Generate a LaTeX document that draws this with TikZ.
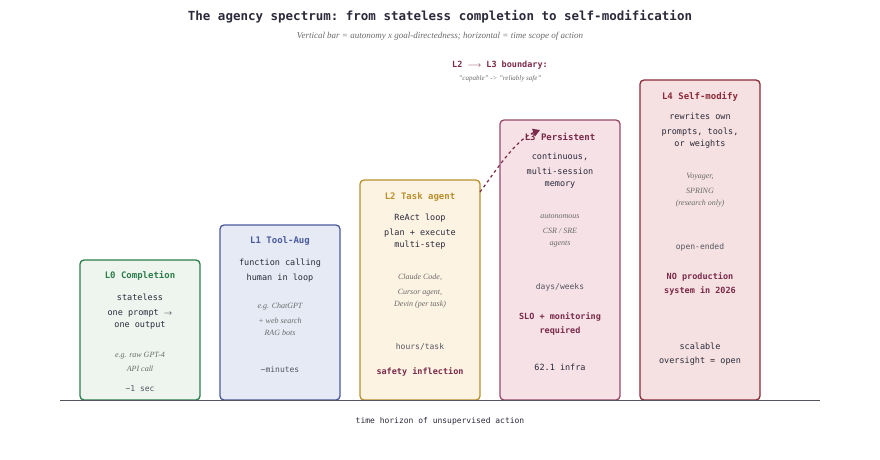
\documentclass[tikz,border=0pt]{standalone}
\usepackage{fontspec}
\setmainfont{Liberation Serif}
\setmonofont{DejaVu Sans Mono}
\usetikzlibrary{arrows.meta,positioning}
\definecolor{inkC}{HTML}{2A2A3A}
\definecolor{greyC}{HTML}{6A6A6A}
\definecolor{maroonC}{HTML}{7A2A4A}
\definecolor{lzeroD}{HTML}{2E7D4A}\definecolor{lzeroF}{HTML}{EDF5EE}
\definecolor{loneD}{HTML}{4A5A9A}\definecolor{loneF}{HTML}{E5EAF5}
\definecolor{ltwoD}{HTML}{B8902E}\definecolor{ltwoF}{HTML}{FDF3E2}
\definecolor{lthreeD}{HTML}{9A4A6A}\definecolor{lthreeF}{HTML}{F5E1E6}
\definecolor{lfourD}{HTML}{8A2A3A}\definecolor{lfourF}{HTML}{F5E1E1}
\tikzset{
 level/.style={draw=#1D,fill=#1F,line width=1.3pt,rounded corners=4pt},
 head/.style={font=\ttfamily\bfseries\fontsize{9}{10}\selectfont,text=#1},
 body/.style={font=\ttfamily\fontsize{8.5}{15}\selectfont,text=inkC,align=center},
 note/.style={font=\itshape\fontsize{8}{15}\selectfont,text=greyC,align=center},
 span/.style={font=\ttfamily\fontsize{8}{10}\selectfont,text=inkC!80},
 warn/.style={font=\ttfamily\bfseries\fontsize{8.5}{14}\selectfont,text=maroonC,align=center}}
\begin{document}
\begin{tikzpicture}[x=1pt,y=-1pt]
\useasboundingbox (0,0) rectangle (880,460);
\node[font=\ttfamily\bfseries\fontsize{12.5}{14}\selectfont,text=inkC] (title) at (440,17) {The agency spectrum: from stateless completion to self-modification};
\node[font=\itshape\fontsize{9}{10}\selectfont,text=greyC] (subtitle) at (440,36) {Vertical bar = autonomy x goal-directedness; horizontal = time scope of action};
% boxes
\draw[level=lzero] (80,260) rectangle (200,400);
\draw[level=lone] (220,225) rectangle (340,400);
\draw[level=ltwo] (360,180) rectangle (480,400);
\draw[level=lthree] (500,120) rectangle (620,400);
\draw[level=lfour] (640,80) rectangle (760,400);
\draw[inkC!80,line width=1pt] (60,400) -- (820,400);
\node[span,text=inkC] (axis) at (440,421) {time horizon of unsupervised action};
% L0
\node[head=lzeroD] (hzero) at (140,276) {L0 Completion};
\node[body,anchor=north] (bzero) at (140,290) {stateless\\one prompt $\rightarrow$\\[-3pt]one output};
\node[note,anchor=north] (nzero) at (140,349) {e.g. raw GPT-4\\[-1pt]API call};
\node[span] (szero) at (140,389) {\textasciitilde1 sec};
% L1
\node[head=loneD] (hone) at (280,241) {L1 Tool-Aug};
\node[body,anchor=north] (bone) at (280,255) {function calling\\human in loop};
\node[note,anchor=north] (none) at (280,299) {e.g. ChatGPT\\+ web search\\[-3pt]RAG bots};
\node[span] (sone) at (280,370) {\textasciitilde minutes};
% L2
\node[head=ltwoD] (htwo) at (420,197) {L2 Task agent};
\node[body,anchor=north] (btwo) at (420,210) {ReAct loop\\plan + execute\\[-3pt]multi-step};
\node[note,anchor=north] (ntwo) at (420,270) {Claude Code,\\Cursor agent,\\[-3pt]Devin (per task)};
\node[span] (stwo) at (420,347) {hours/task};
\node[warn] (wtwo) at (420,372) {safety inflection};
% L3
\node[head=maroonC] (hthree) at (560,137) {L3 Persistent};
\node[body,anchor=north] (bthree) at (560,150) {continuous,\\multi-session\\[-3pt]memory};
\node[note,anchor=north] (nthree) at (560,210) {autonomous\\CSR / SRE\\[-3pt]agents};
\node[span] (sthree) at (560,287) {days/weeks};
\node[warn] (wthree) at (560,324) {SLO + monitoring\\required};
\node[span,text=inkC,font=\ttfamily\fontsize{8.5}{10}\selectfont] (ithree) at (560,367) {62.1 infra};
% L4
\node[head=lfourD] (hfour) at (700,97) {L4 Self-modify};
\node[body,anchor=north] (bfour) at (700,110) {rewrites own\\prompts, tools,\\[-3pt]or weights};
\node[note,anchor=north] (nfour) at (700,170) {Voyager,\\SPRING\\[-3pt](research only)};
\node[span] (sfour) at (700,247) {open-ended};
\node[warn] (wfour) at (700,284) {NO production\\system in 2026};
\node[body,font=\ttfamily\fontsize{8.5}{14}\selectfont] (ofour) at (700,354) {scalable\\oversight = open};
% boundary
\node[font=\ttfamily\bfseries\fontsize{8.5}{10}\selectfont,text=maroonC] (bound) at (500,65) {L2 $\longrightarrow$ L3 boundary:};
\node[font=\itshape\fontsize{7}{8}\selectfont,text=greyC] (quote) at (500,79) {"capable" -> "reliably safe"};
\coordinate (from) at (480,192);
\coordinate (to) at (540,130);
\draw[maroonC,line width=1.2pt,dash pattern=on 3pt off 3pt,-{Triangle[width=8pt,length=7pt]}] (from) .. controls (495,172) and (515,140) .. (to);
\end{tikzpicture}
\end{document}
